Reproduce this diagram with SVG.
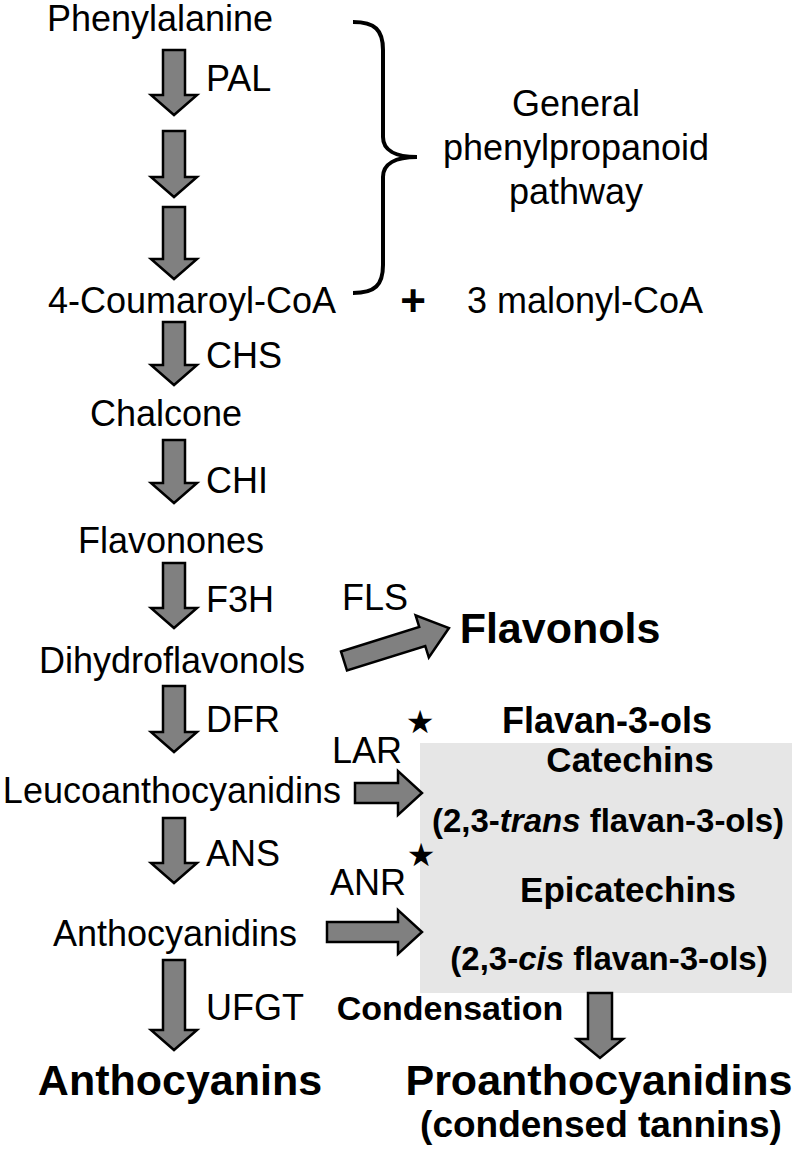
<svg xmlns="http://www.w3.org/2000/svg" width="800" height="1154" viewBox="0 0 800 1154">
<style>
.t{font-family:"Liberation Sans",Arial,sans-serif;font-size:36px;fill:#000}
.b{font-family:"Liberation Sans",Arial,sans-serif;font-weight:bold;fill:#000}
.m{text-anchor:middle}
.arr{fill:#808080;stroke:#000;stroke-width:2.5;stroke-linejoin:miter}
.star{font-family:"DejaVu Sans",sans-serif;font-size:32px;fill:#000;text-anchor:middle}
</style>
<rect width="800" height="1154" fill="#fff"/>
<rect id="flavan-box" x="420" y="743" width="372" height="250" fill="#e6e6e6"/>
<g id="connectors">
<path class="arr" d="M163,50 H185 V95 H197 L174,115 L151,95 H163 Z"/>
<path class="arr" d="M163,131 H185 V177 H197 L174,197 L151,177 H163 Z"/>
<path class="arr" d="M163,207 H185 V259 H197 L174,279 L151,259 H163 Z"/>
<path class="arr" d="M163,322 H185 V365 H197 L174,385 L151,365 H163 Z"/>
<path class="arr" d="M163,440 H185 V483 H197 L174,503 L151,483 H163 Z"/>
<path class="arr" d="M163,563 H185 V608 H197 L174,628 L151,608 H163 Z"/>
<path class="arr" d="M163,686 H185 V732 H197 L174,752 L151,732 H163 Z"/>
<path class="arr" d="M163,818 H185 V863 H197 L174,883 L151,863 H163 Z"/>
<path class="arr" d="M163,960 H185 V1030 H197 L174,1050 L151,1030 H163 Z"/>
<path class="arr" d="M588,993 H612 V1039 H623 L600,1058 L577,1039 H588 Z"/>
<path class="arr" transform="translate(344,661) rotate(-17.45)" d="M0,-10 H82 V-22 L110,0 L82,22 V10 H0 Z"/>
<path class="arr" d="M355,783 H398 V771 L422,793 L398,815 V803 H355 Z"/>
<path class="arr" d="M327,922 H398 V910 L422,932 L398,954 V942 H327 Z"/>
<path fill="none" stroke="#000" stroke-width="4" d="M353,22 C375,22 383,30 383,50 V137 C383,150 395,157 417,157 C395,157 383,164 383,177 V265 C383,285 375,293 353,293"/>
</g>
<g id="phenylalanine"><text class="t m" x="160" y="31">Phenylalanine</text></g>
<g id="pal"><text class="t" x="206" y="91">PAL</text></g>
<g id="general"><text class="t m" x="576" y="116">General</text><text class="t m" x="576" y="160">phenylpropanoid</text><text class="t m" x="576" y="204">pathway</text></g>
<g id="coumaroyl"><text class="t m" x="192" y="313">4-Coumaroyl-CoA</text></g>
<g id="plus"><text class="b m" x="413" y="316" font-size="44">+</text></g>
<g id="malonyl"><text class="t m" x="585" y="313">3 malonyl-CoA</text></g>
<g id="chs"><text class="t" x="206" y="368">CHS</text></g>
<g id="chalcone"><text class="t m" x="166" y="426">Chalcone</text></g>
<g id="chi"><text class="t" x="206" y="493">CHI</text></g>
<g id="flavonones"><text class="t m" x="171" y="553">Flavonones</text></g>
<g id="f3h"><text class="t" x="206" y="612">F3H</text></g>
<g id="fls"><text class="t" x="342" y="610">FLS</text></g>
<g id="flavonols"><text class="b m" x="560" y="643" font-size="43">Flavonols</text></g>
<g id="dihydroflavonols"><text class="t m" x="172" y="673">Dihydroflavonols</text></g>
<g id="dfr"><text class="t" x="206" y="732">DFR</text></g>
<g id="lar"><text class="t" x="332" y="763">LAR</text><text class="star" x="420" y="733">★</text></g>
<g id="flavan3ols"><text class="b m" x="607" y="733" font-size="36">Flavan-3-ols</text></g>
<g id="leuco"><text class="t m" x="172" y="803">Leucoanthocyanidins</text></g>
<g id="catechins"><text class="b m" x="630" y="772" font-size="35">Catechins</text><text class="b m" x="608" y="832" font-size="33">(2,3-<tspan font-style="italic">trans</tspan> flavan-3-ols)</text></g>
<g id="ans"><text class="t" x="206" y="866">ANS</text></g>
<g id="anr"><text class="t" x="330" y="895">ANR</text><text class="star" x="421" y="866">★</text></g>
<g id="epicatechins"><text class="b m" x="628" y="902" font-size="35">Epicatechins</text><text class="b m" x="609" y="970" font-size="33">(2,3-<tspan font-style="italic">cis</tspan> flavan-3-ols)</text></g>
<g id="anthocyanidins"><text class="t m" x="175" y="946">Anthocyanidins</text></g>
<g id="ufgt"><text class="t" x="206" y="1020">UFGT</text></g>
<g id="condensation"><text class="b m" x="450" y="1020" font-size="34">Condensation</text></g>
<g id="anthocyanins"><text class="b m" x="180" y="1095" font-size="43">Anthocyanins</text></g>
<g id="proantho"><text class="b m" x="599" y="1095" font-size="43">Proanthocyanidins</text><text class="b m" x="601" y="1137" font-size="37">(condensed tannins)</text></g>
</svg>
